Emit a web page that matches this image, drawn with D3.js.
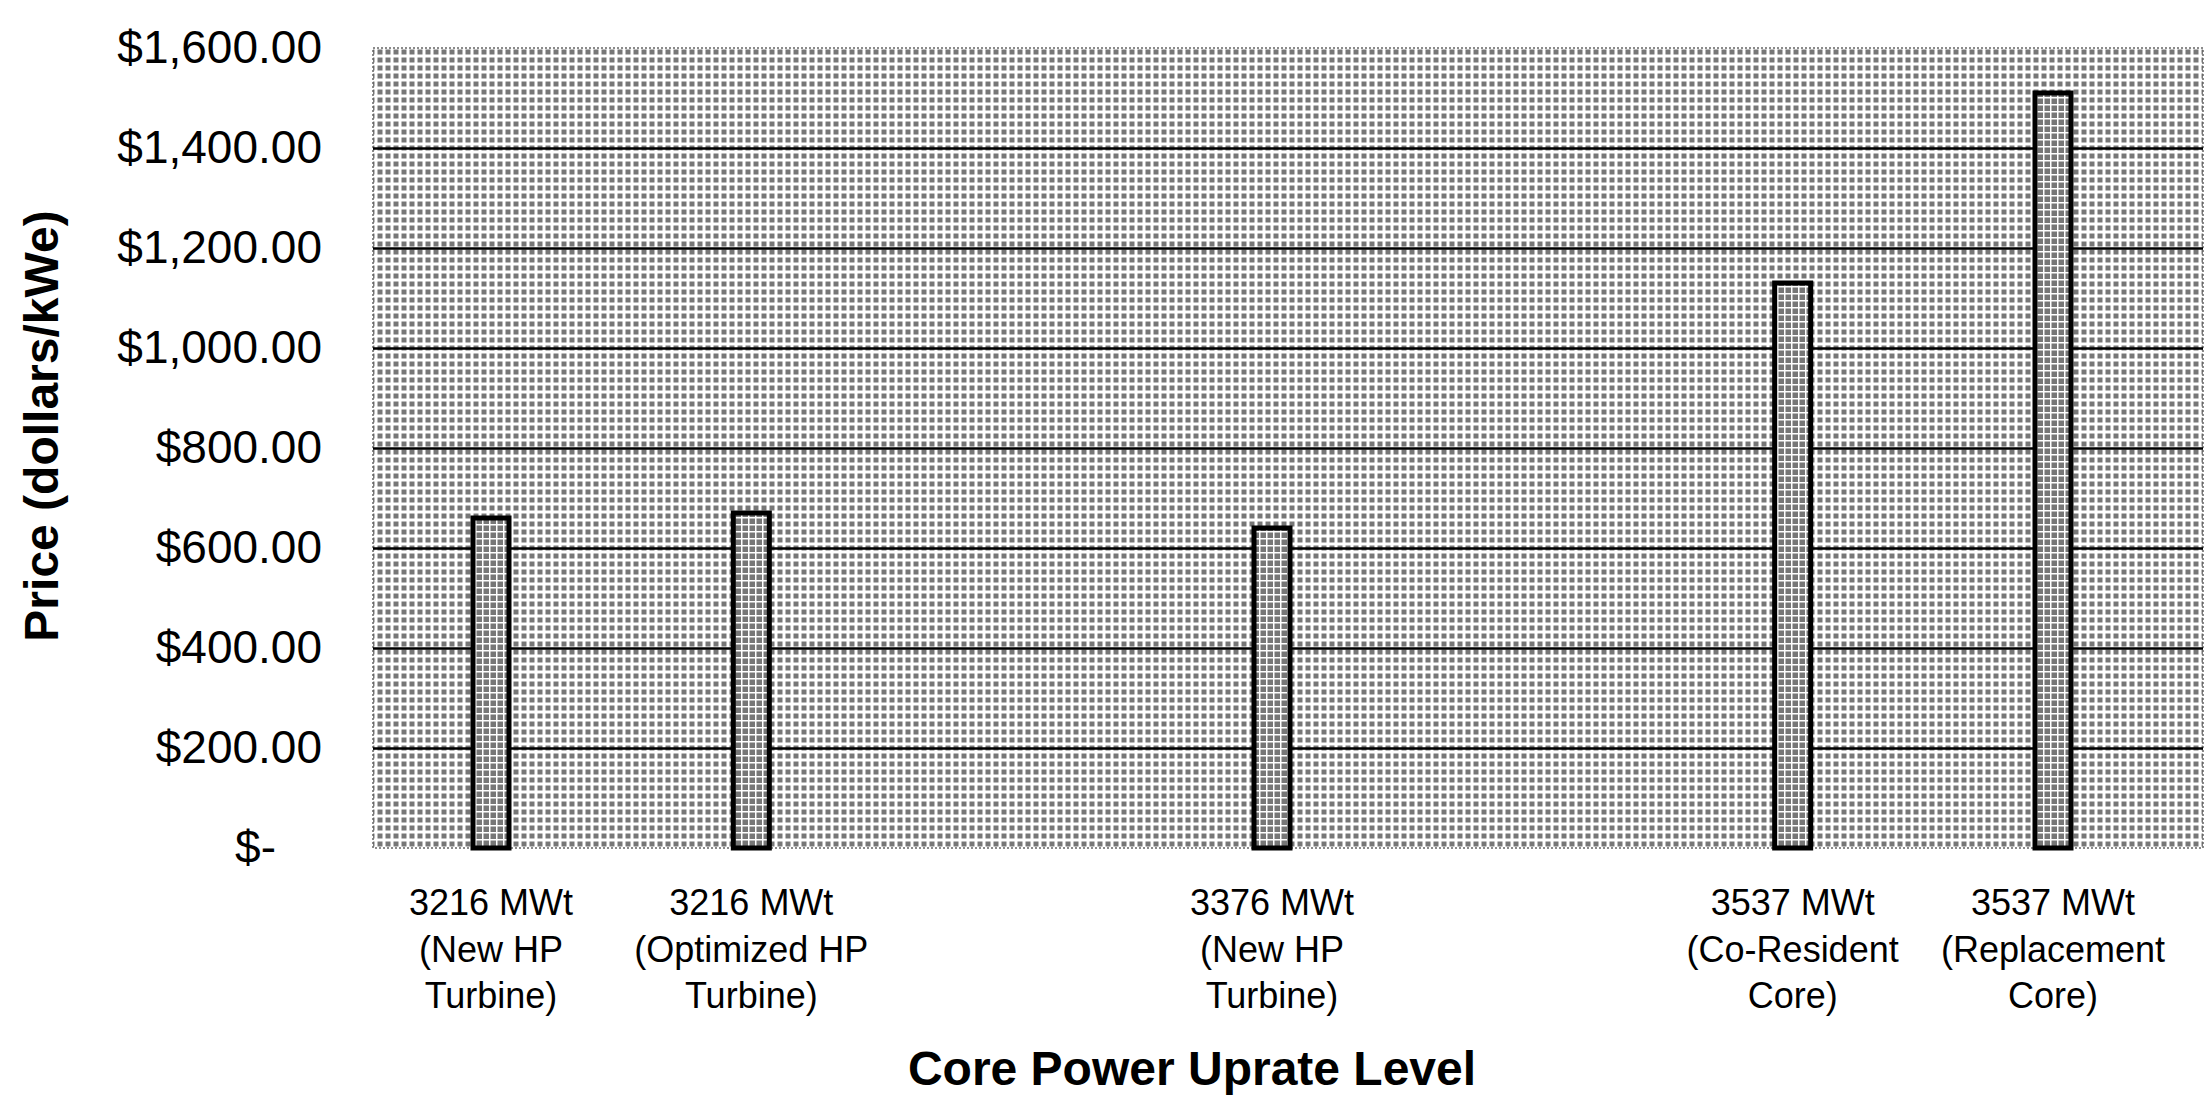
<!DOCTYPE html>
<html>
<head>
<meta charset="utf-8">
<script src="https://cdn.jsdelivr.net/npm/d3@7"></script>
<style>
  body { margin: 0; background: #fff; }
  text { font-family: "Liberation Sans", Arial, sans-serif; fill: #000; }
</style>
</head>
<body>
<div id="chart"></div>
<script>
// slots along the x axis; two slots are empty in the original chart
const slotLabels = [
  ['3216 MWt', '(New HP', 'Turbine)'],
  ['3216 MWt', '(Optimized HP', 'Turbine)'],
  [],
  ['3376 MWt', '(New HP', 'Turbine)'],
  [],
  ['3537 MWt', '(Co-Resident', 'Core)'],
  ['3537 MWt', '(Replacement', 'Core)']
];
const prices = [660, 670, null, 640, null, 1130, 1510];
const yTicks = [0, 200, 400, 600, 800, 1000, 1200, 1400, 1600];

const W = 2209, H = 1097;
const plot = { left: 373, right: 2203, top: 48, bottom: 848 };

const svg = d3.select('#chart').append('svg')
  .attr('width', W)
  .attr('height', H);

// halftone-ish fills
const defs = svg.append('defs');
const bgPat = defs.append('pattern')
  .attr('id', 'bgdots')
  .attr('width', 8).attr('height', 8)
  .attr('patternUnits', 'userSpaceOnUse');
bgPat.append('rect').attr('width', 8).attr('height', 8).attr('fill', '#fff');
bgPat.append('rect').attr('x', 1.5).attr('y', 1.5).attr('width', 5).attr('height', 5).attr('fill', '#777');

const barPat = defs.append('pattern')
  .attr('id', 'bardots')
  .attr('width', 7).attr('height', 7)
  .attr('patternUnits', 'userSpaceOnUse');
barPat.append('rect').attr('width', 7).attr('height', 7).attr('fill', '#fff');
barPat.append('rect').attr('x', 0.5).attr('y', 0.5).attr('width', 5.5).attr('height', 5.5).attr('fill', '#777');

const x = d3.scalePoint()
  .domain(d3.range(slotLabels.length))
  .range([491, 2053]);

const y = d3.scaleLinear()
  .domain([0, 1600])
  .range([plot.bottom, plot.top]);

// plot background
svg.append('rect')
  .attr('x', plot.left)
  .attr('y', plot.top)
  .attr('width', plot.right - plot.left)
  .attr('height', plot.bottom - plot.top)
  .attr('fill', 'url(#bgdots)')
  .attr('stroke', '#666')
  .attr('stroke-width', 1.5)
  .attr('stroke-dasharray', '2,2');

// gridlines
const grid = svg.append('g')
  .attr('transform', `translate(${plot.left},0)`)
  .call(d3.axisLeft(y)
    .tickValues(yTicks.filter(v => v > 0 && v < 1600))
    .tickSize(-(plot.right - plot.left))
    .tickFormat(''));
grid.select('.domain').remove();
grid.selectAll('line').attr('stroke', '#000').attr('stroke-width', 2.5);

// y tick labels
const fmt = d3.format('$,.2f');
const yAxis = svg.append('g')
  .attr('transform', `translate(${plot.left},0)`)
  .call(d3.axisLeft(y)
    .tickValues(yTicks)
    .tickSize(0)
    .tickPadding(51)
    .tickFormat(v => v === 0 ? '$-' : fmt(v)));
yAxis.select('.domain').remove();
yAxis.selectAll('text')
  .attr('font-size', 46)
  .attr('font-family', '"Liberation Sans", Arial, sans-serif')
  .attr('fill', '#000')
  .attr('x', d => d === 0 ? -97 : -51);

// bars
const barW = 36;
svg.append('g')
  .selectAll('rect')
  .data(prices.map((v, i) => ({ i, v })).filter(d => d.v != null))
  .enter()
  .append('rect')
  .attr('x', d => x(d.i) - barW / 2)
  .attr('y', d => y(d.v))
  .attr('width', barW)
  .attr('height', d => y(0) - y(d.v))
  .attr('fill', 'url(#bardots)')
  .attr('stroke', '#000')
  .attr('stroke-width', 5);

// x category labels
const xl = svg.append('g')
  .selectAll('text')
  .data(slotLabels.map((lines, i) => ({ i, lines })).filter(d => d.lines.length))
  .enter()
  .append('text')
  .attr('text-anchor', 'middle')
  .attr('font-size', 36);
xl.selectAll('tspan')
  .data(d => d.lines.map((t, k) => ({ t, k, i: d.i })))
  .enter()
  .append('tspan')
  .attr('x', d => x(d.i))
  .attr('y', d => 915 + d.k * 46.5)
  .text(d => d.t);

// axis titles
svg.append('text')
  .attr('transform', 'translate(58,426) rotate(-90)')
  .attr('text-anchor', 'middle')
  .attr('font-size', 48)
  .attr('font-weight', 'bold')
  .text('Price (dollars/kWe)');

svg.append('text')
  .attr('x', 1192)
  .attr('y', 1085)
  .attr('text-anchor', 'middle')
  .attr('font-size', 48)
  .attr('font-weight', 'bold')
  .text('Core Power Uprate Level');
</script>
</body>
</html>
